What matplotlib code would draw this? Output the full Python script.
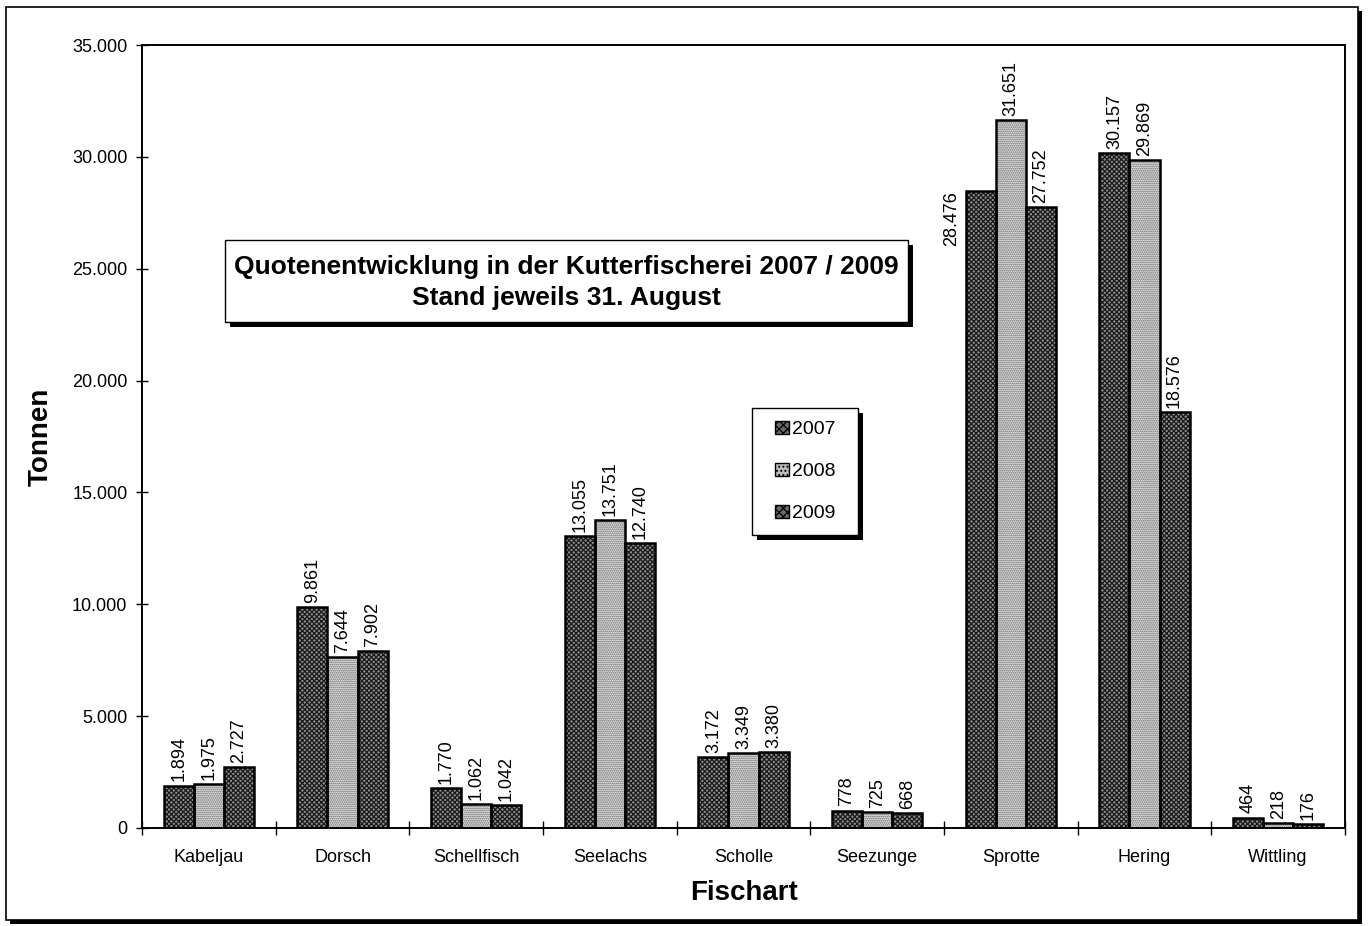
import numpy as np
import matplotlib.pyplot as plt
from matplotlib import font_manager
from matplotlib.patches import Rectangle, Patch

plt.rcParams['font.family'] = ['Liberation Sans', 'DejaVu Sans']
plt.rcParams['hatch.linewidth'] = 0.9

# data
fische = ['Kabeljau', 'Dorsch', 'Schellfisch', 'Seelachs', 'Scholle',
          'Seezunge', 'Sprotte', 'Hering', 'Wittling']
jahre = ['2007', '2008', '2009']
q2007 = [1894, 9861, 1770, 13055, 3172, 778, 28476, 30157, 464]
q2008 = [1975, 7644, 1062, 13751, 3349, 725, 31651, 29869, 218]
q2009 = [2727, 7902, 1042, 12740, 3380, 668, 27752, 18576, 176]
yticks = [0, 5000, 10000, 15000, 20000, 25000, 30000, 35000]

serien = [q2007, q2008, q2009]
# (face, hatch colour, hatch)
stil = [('#8c8c8c', '#1a1a1a', 'xxxxxxx'),
        ('#f4f4f4', '#555555', '........'),
        ('#8c8c8c', '#1a1a1a', 'xxxxxxx')]


def fmt(v):
    return f"{v:,}".replace(",", ".")


# narrow font for the title box if there is one
namen = {f.name for f in font_manager.fontManager.ttflist}
if 'Liberation Sans Narrow' in namen:
    titel_font, titel_size = 'Liberation Sans Narrow', 22
else:
    titel_font, titel_size = 'Liberation Sans', 19

fig = plt.figure(figsize=(13.68, 9.26), dpi=100)
W, H = 1368, 926

# outer frame with shadow (behind the axes)
fig.patches.append(Rectangle((10 / W, 1 - 924 / H), 1352 / W, 913 / H,
                             transform=fig.transFigure, facecolor='black',
                             edgecolor='none', zorder=-2))
fig.patches.append(Rectangle((6 / W, 1 - 920 / H), 1352 / W, 913 / H,
                             transform=fig.transFigure, facecolor='white',
                             edgecolor='black', linewidth=1.2, zorder=-1))

ax = fig.add_axes([142 / W, 1 - 828 / H, 1203 / W, 783 / H])
ax.patch.set_alpha(0)
x = np.arange(len(fische))
w = 0.225

for i, (vals, (fc, hc, h)) in enumerate(zip(serien, stil)):
    pos = x + (i - 1) * w
    ax.bar(pos, vals, w, color=fc, edgecolor=hc, hatch=h, linewidth=0, zorder=2)
    ax.bar(pos, vals, w, fill=False, edgecolor='black', linewidth=1.8, zorder=3)
    for j, (p, v) in enumerate(zip(pos, vals)):
        if fische[j] == 'Sprotte' and i == 0:
            ax.annotate(fmt(v), (p - w / 2, v), xytext=(-4, 0),
                        textcoords='offset points', rotation=90,
                        ha='right', va='top', fontsize=13)
        else:
            ax.annotate(fmt(v), (p, v), xytext=(0, 3),
                        textcoords='offset points', rotation=90,
                        ha='center', va='bottom', fontsize=13)

ax.set_xlim(-0.5, len(fische) - 0.5)
ax.set_ylim(0, 35000)
ax.set_yticks(yticks)
ax.set_yticklabels([fmt(t) for t in yticks], fontsize=13)
ax.set_xticks(x)
ax.set_xticklabels(fische, fontsize=13)
ax.tick_params(axis='x', which='major', length=0, pad=15)
ax.set_xticks(np.arange(-0.5, len(fische), 1), minor=True)
ax.tick_params(axis='x', which='minor', direction='inout', length=10, width=1)
ax.tick_params(axis='y', direction='inout', length=9, width=1, pad=6)
for s in ax.spines.values():
    s.set_linewidth(1.4)

ax.set_ylabel('Tonnen', fontsize=20, fontweight='bold', labelpad=13)
ax.set_xlabel('Fischart', fontsize=20, fontweight='bold', labelpad=10)

# title box with shadow
tx0, ty0, tx1, ty1 = 225, 240, 908, 322
fig.patches.append(Rectangle(((tx0 + 5) / W, 1 - (ty1 + 5) / H),
                             (tx1 - tx0) / W, (ty1 - ty0) / H,
                             transform=fig.transFigure, facecolor='black',
                             edgecolor='none', zorder=5))
fig.patches.append(Rectangle((tx0 / W, 1 - ty1 / H), (tx1 - tx0) / W,
                             (ty1 - ty0) / H, transform=fig.transFigure,
                             facecolor='white', edgecolor='black',
                             linewidth=1, zorder=6))
fig.text((tx0 + tx1) / 2 / W, 1 - 267 / H,
         'Quotenentwicklung in der Kutterfischerei 2007 / 2009',
         ha='center', va='center', fontsize=titel_size, fontweight='bold',
         family=titel_font, zorder=7)
fig.text((tx0 + tx1) / 2 / W, 1 - 298 / H, 'Stand jeweils 31. August',
         ha='center', va='center', fontsize=titel_size, fontweight='bold',
         family=titel_font, zorder=7)

# legend box with shadow
lx0, ly0, lx1, ly1 = 752, 408, 858, 535
fig.patches.append(Rectangle(((lx0 + 5) / W, 1 - (ly1 + 5) / H),
                             (lx1 - lx0) / W, (ly1 - ly0) / H,
                             transform=fig.transFigure, facecolor='black',
                             edgecolor='none', zorder=5))
fig.patches.append(Rectangle((lx0 / W, 1 - ly1 / H), (lx1 - lx0) / W,
                             (ly1 - ly0) / H, transform=fig.transFigure,
                             facecolor='white', edgecolor='black',
                             linewidth=1, zorder=6))
handles = [Patch(facecolor='#6a6a6a', edgecolor='black', hatch='xxxx',
                 linewidth=1),
           Patch(facecolor='#bbbbbb', edgecolor='black', hatch='....',
                 linewidth=1),
           Patch(facecolor='#6a6a6a', edgecolor='black', hatch='xxxx',
                 linewidth=1)]
leg = fig.legend(handles, jahre, loc='center',
                 bbox_to_anchor=((lx0 + lx1) / 2 / W, 1 - (ly0 + ly1) / 2 / H),
                 frameon=False, fontsize=14, handlelength=0.7, handleheight=0.7,
                 handletextpad=0.15, labelspacing=1.25)
leg.set_zorder(8)

fig.savefig('out.png', dpi=100)
